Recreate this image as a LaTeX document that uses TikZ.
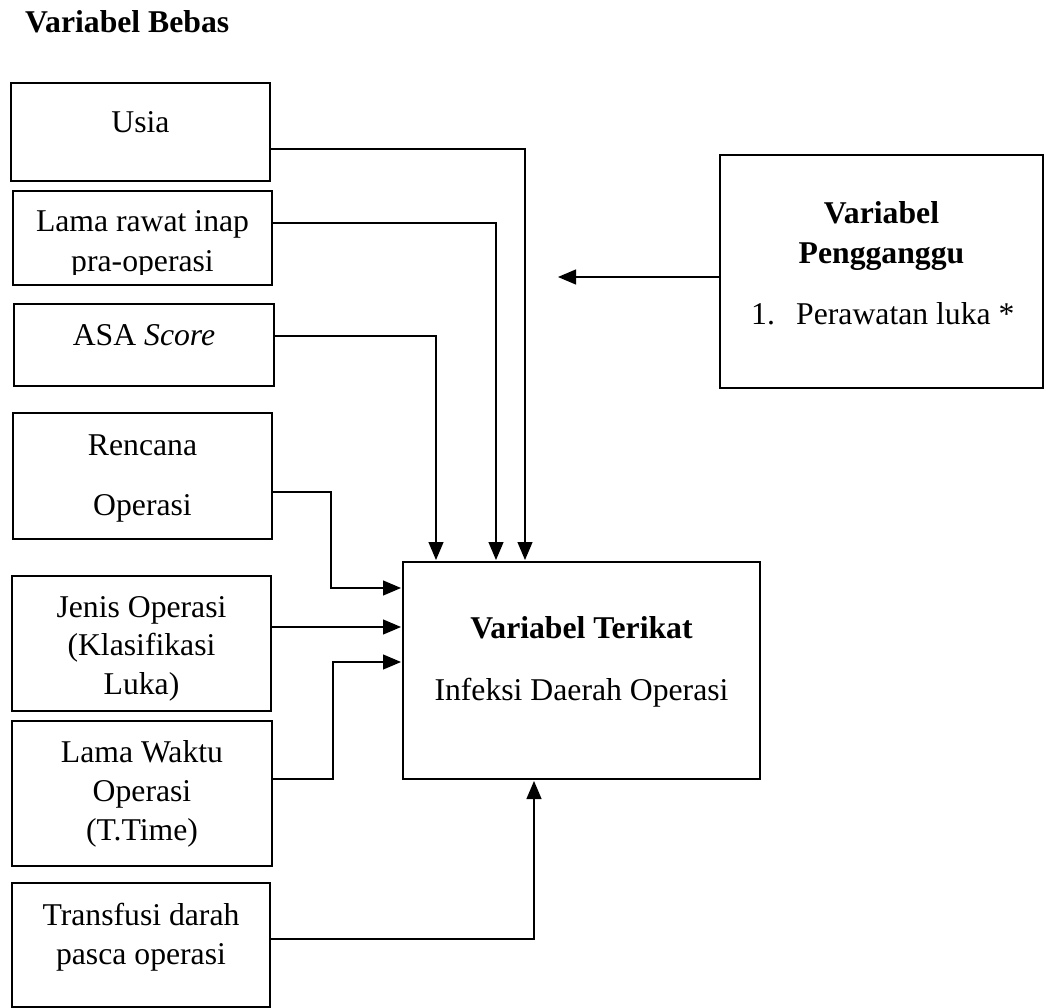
\documentclass[tikz,border=0pt]{standalone}
\usepackage{fontspec}
\setmainfont{Liberation Serif}
\usetikzlibrary{arrows.meta,calc}
\begin{document}
\begin{tikzpicture}[x=1pt,y=1pt,
  box/.style={draw,line width=2.5pt,inner sep=0pt,outer sep=0pt},
  txt/.style={inner sep=0pt,anchor=base,font=\fontsize{31.7}{38}\selectfont},
  conn/.style={line width=1.2pt},
  arr/.style={conn,-{Triangle[length=18pt,width=15pt]},shorten >=2pt}]
\useasboundingbox (0,0) rectangle (1046,-1008);

% title
\node[txt,anchor=base west] (title) at (25,-33) {\textbf{Variabel Bebas}};

% boxes
\node[box,minimum width=259pt,minimum height=98pt]  (usia)  at (140.5,-132) {};
\node[box,minimum width=259pt,minimum height=94pt]  (lama)  at (142.5,-238) {};
\node[box,minimum width=260pt,minimum height=82pt]  (asa)   at (144,-345) {};
\node[box,minimum width=259pt,minimum height=126pt] (renc)  at (142.5,-476) {};
\node[box,minimum width=259pt,minimum height=135pt] (jenis) at (141.5,-643.5) {};
\node[box,minimum width=260pt,minimum height=145pt] (lw)    at (142,-793.5) {};
\node[box,minimum width=258pt,minimum height=124pt] (trans) at (141,-945) {};
\node[box,minimum width=357pt,minimum height=217pt] (main)  at (581.5,-670.5) {};
\node[box,minimum width=323pt,minimum height=233pt] (peng)  at (881.5,-271.5) {};

% texts
\node[txt] (tusia) at (140.5,-133) {Usia};
\node[txt] (tlama1) at (142.5,-232) {Lama rawat inap};
\begin{scope}
\clip (0,-190) rectangle (1046,-274);
\node[txt] (tlama2) at (142.5,-271) {pra-operasi};
\end{scope}
\node[txt] (tasa) at (144,-345) {ASA \textit{Score}};
\node[txt] (trenc1) at (142.5,-455) {Rencana};
\node[txt] (trenc2) at (142.5,-515) {Operasi};
\node[txt] (tjenis1) at (141.5,-617) {Jenis Operasi};
\node[txt] (tjenis2) at (141.5,-655) {(Klasifikasi};
\node[txt] (tjenis3) at (141.5,-694) {Luka)};
\node[txt] (tlw1) at (142,-762) {Lama Waktu};
\node[txt] (tlw2) at (142,-801) {Operasi};
\node[txt] (tlw3) at (142,-840) {(T.Time)};
\node[txt] (ttrans1) at (141,-925) {Transfusi darah};
\node[txt] (ttrans2) at (141,-964) {pasca operasi};
\node[txt] (tmain1) at (581.5,-638) {\textbf{Variabel Terikat}};
\node[txt] (tmain2) at (581.5,-700) {Infeksi Daerah Operasi};
\node[txt] (tpeng1) at (881.5,-224) {\textbf{Variabel}};
\node[txt] (tpeng2) at (881.5,-263) {\textbf{Pengganggu}};
\node[txt,anchor=base west] (tpeng3) at (751,-324) {1.};
\node[txt,anchor=base west] (tpeng4) at (796,-324) {Perawatan luka *};

% connectors
\draw[arr] ([yshift=-17pt]usia.east) -| ([xshift=122pt]main.north west);
\draw[arr] ([yshift=15pt]lama.east) -| ([xshift=93pt]main.north west);
\draw[arr] ([yshift=9pt]asa.east) -| ([xshift=33pt]main.north west);
\draw[arr] ([yshift=-16pt]renc.east) -- ++(59,0) |- ([yshift=-26pt]main.north west);
\draw[arr] ([yshift=16.5pt]jenis.east) coordinate (j) -- (j -| main.west);
\draw[arr] ([yshift=14.5pt]lw.east) -- ++(61,0) |- ([yshift=-100pt]main.north west);
\draw[arr] ([yshift=6pt]trans.east) -| ([xshift=131pt]main.south west);
\coordinate (pengend) at (558,-277);
\draw[arr,shorten >=0pt] ([yshift=-5.5pt]peng.west) -- (pengend);
\end{tikzpicture}
\end{document}
